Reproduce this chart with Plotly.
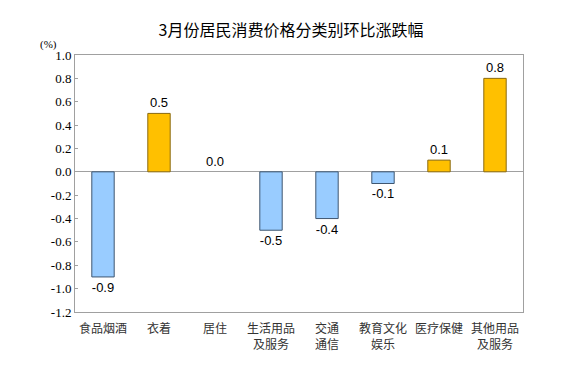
import plotly.graph_objects as go

categories = ["食品烟酒", "衣着", "居住", "生活用品<br>及服务", "交通<br>通信", "教育文化<br>娱乐", "医疗保健", "其他用品<br>及服务"]
values = [-0.9, 0.5, 0.0, -0.5, -0.4, -0.1, 0.1, 0.8]
tick_vals = [1.0, 0.8, 0.6, 0.4, 0.2, 0.0, -0.2, -0.4, -0.6, -0.8, -1.0, -1.2]
tick_text = ["1.0", "0.8", "0.6", "0.4", "0.2", "0.0", "-0.2", "-0.4", "-0.6", "-0.8", "-1.0", "-1.2"]
labels = ["-0.9", "0.5", "0.0", "-0.5", "-0.4", "-0.1", "0.1", "0.8"]

fills = ["#FFC000" if v >= 0 else "#99CCFF" for v in values]
lines = ["#8A6A10" if v >= 0 else "#3F5670" for v in values]
line_w = [0 if v == 0 else 1 for v in values]

SERIF = "Liberation Serif, Times New Roman, serif"

fig = go.Figure()
fig.add_trace(go.Bar(
    x=categories, y=values, width=0.4,
    marker=dict(color=fills, line=dict(color=lines, width=line_w)),
    text=labels, textposition="outside", cliponaxis=False,
    textfont=dict(family="Liberation Sans, Arial", size=13, color="#000000"),
))

fig.update_layout(
    width=566, height=372,
    margin=dict(l=67, r=51, t=47, b=68),
    paper_bgcolor="white", plot_bgcolor="white",
    showlegend=False,
    title=dict(text="3月份居民消费价格分类别环比涨跌幅", x=0.5, xanchor="center", y=0.941, yanchor="middle",
               font=dict(family="Noto Sans CJK SC", size=16, color="#000000")),
)
fig.update_xaxes(
    showline=True, linecolor="#A0A0A0", linewidth=1, mirror=True,
    ticks="", ticklabelstandoff=6,
    tickfont=dict(family="Noto Sans CJK SC", size=12, color="#333333"),
    tickangle=0,
)
fig.update_yaxes(
    range=[-1.2, 1.0], tickvals=tick_vals, ticktext=tick_text,
    showgrid=False, zeroline=True, zerolinecolor="#A0A0A0", zerolinewidth=1,
    showline=True, linecolor="#A0A0A0", linewidth=1, mirror=True,
    ticks="inside", ticklen=3, tickcolor="#A0A0A0",
    tickfont=dict(family=SERIF, size=13, color="#000000"),
)
fig.add_annotation(text="(%)", xref="paper", yref="paper", x=-0.06, y=1.039, xanchor="center", yanchor="middle",
                   showarrow=False, font=dict(family=SERIF, size=11, color="#000000"))

fig.write_html("out.html")
